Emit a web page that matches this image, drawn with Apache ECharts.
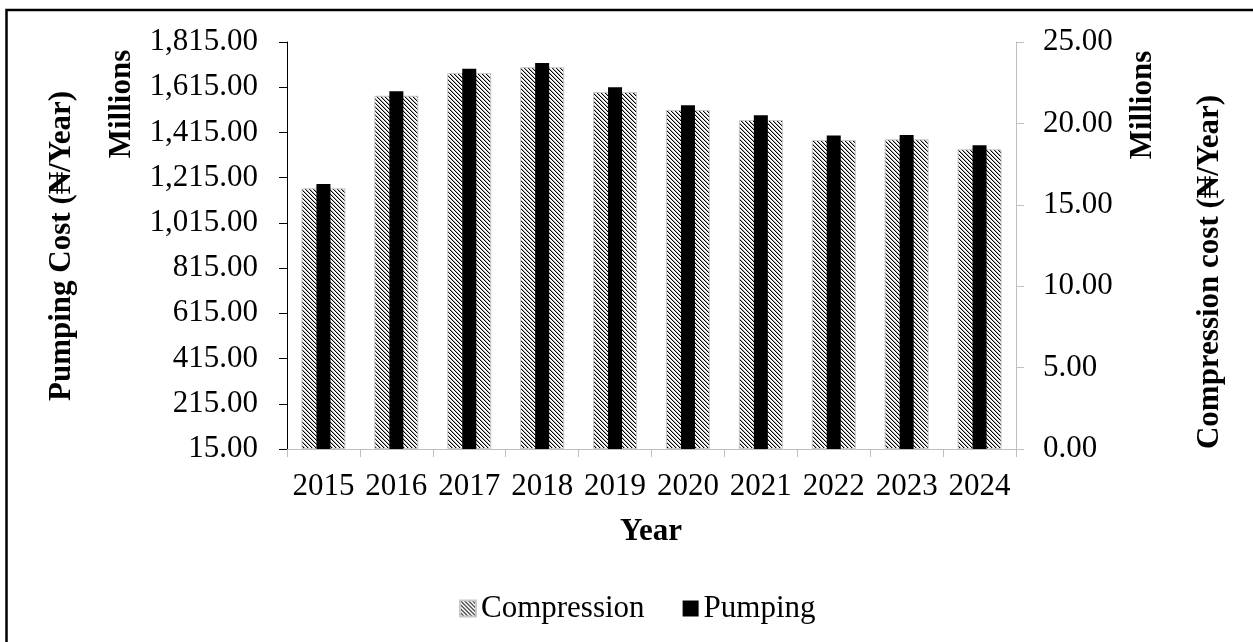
<!DOCTYPE html>
<html>
<head>
<meta charset="utf-8">
<script src="https://cdn.jsdelivr.net/npm/echarts@6/dist/echarts.min.js"></script>
<style>
  html, body { margin: 0; padding: 0; background: #fff; }
  #chart { width: 1253px; height: 642px; }
</style>
</head>
<body>
<div id="chart"></div>
<script>
// data
const years = ['2015', '2016', '2017', '2018', '2019', '2020', '2021', '2022', '2023', '2024'];
// Pumping cost, millions (left axis)
const pumping = [1187, 1597, 1697, 1722, 1615, 1535, 1491, 1401, 1404, 1358];
// Compression cost, millions (right axis)
const compression = [16.01, 21.70, 23.10, 23.45, 21.93, 20.82, 20.21, 18.98, 19.02, 18.41];

const FONT = '"Liberation Serif", "Times New Roman", serif';

// diagonal hatch for compression bars
function makeHatch() {
  const c = document.createElement('canvas');
  c.width = 4; c.height = 4;
  const ctx = c.getContext('2d');
  const img = ctx.createImageData(4, 4);
  for (let y = 0; y < 4; y++) {
    for (let x = 0; x < 4; x++) {
      const d = ((x - y) % 4 + 4) % 4;
      let v = 255;
      if (d === 0) v = 0;
      else if (d === 1) v = 170;
      const i = (y * 4 + x) * 4;
      img.data[i] = v; img.data[i + 1] = v; img.data[i + 2] = v; img.data[i + 3] = 255;
    }
  }
  ctx.putImageData(img, 0, 0);
  return c;
}

const fmt = (v) => v.toLocaleString('en-US', { minimumFractionDigits: 2, maximumFractionDigits: 2 });

const chart = echarts.init(document.getElementById('chart'));

chart.setOption({
  animation: false,
  backgroundColor: '#fff',
  grid: { left: 287, right: 237, top: 42, bottom: 193 },
  legend: {
    left: 454,
    top: 588,
    itemWidth: 16,
    itemHeight: 16,
    itemGap: 38,
    icon: 'rect',
    textStyle: { fontFamily: FONT, fontSize: 31, color: '#000' },
    data: ['Compression', 'Pumping']
  },
  xAxis: [
    {
      type: 'category',
      data: years,
      axisLine: { lineStyle: { color: '#bfbfbf', width: 1 } },
      axisTick: { show: true, length: 8, lineStyle: { color: '#bfbfbf' } },
      axisLabel: { fontFamily: FONT, fontSize: 31, color: '#000', margin: 22, interval: 0 },
      splitLine: { show: false }
    },
    {
      type: 'category',
      data: years,
      show: false
    }
  ],
  yAxis: [
    {
      type: 'value',
      position: 'left',
      min: 15,
      max: 1815,
      interval: 200,
      axisLine: { show: true, lineStyle: { color: '#000', width: 1 } },
      axisTick: { show: true, length: 8, lineStyle: { color: '#000' } },
      axisLabel: { fontFamily: FONT, fontSize: 31, color: '#000', margin: 29, formatter: fmt },
      splitLine: { show: false }
    },
    {
      type: 'value',
      position: 'right',
      min: 0,
      max: 25,
      interval: 5,
      axisLine: { show: true, lineStyle: { color: '#bfbfbf', width: 1 } },
      axisTick: { show: true, length: 8, lineStyle: { color: '#bfbfbf' } },
      axisLabel: { fontFamily: FONT, fontSize: 31, color: '#000', margin: 27, formatter: fmt },
      splitLine: { show: false }
    }
  ],
  series: [
    {
      name: 'Compression',
      type: 'bar',
      xAxisIndex: 0,
      yAxisIndex: 1,
      barWidth: 44,
      data: compression,
      itemStyle: {
        color: { image: makeHatch(), repeat: 'repeat' },
        borderColor: '#c8c8c8',
        borderWidth: 1
      }
    },
    {
      name: 'Pumping',
      type: 'bar',
      xAxisIndex: 1,
      yAxisIndex: 0,
      barWidth: 14,
      data: pumping,
      itemStyle: { color: '#000' }
    }
  ],
  graphic: [
    {
      type: 'rect',
      shape: { x: 6.5, y: 10, width: 1400, height: 800 },
      style: { fill: 'none', stroke: '#000', lineWidth: 2.5 },
      silent: true
    },
    {
      type: 'text',
      x: 62, y: 246, rotation: Math.PI / 2,
      style: { text: 'Pumping Cost (₦/Year)', font: 'bold 31px ' + FONT, fill: '#000', align: 'center', verticalAlign: 'middle' }
    },
    {
      type: 'text',
      x: 122, y: 104, rotation: Math.PI / 2,
      style: { text: 'Millions', font: 'bold 31px ' + FONT, fill: '#000', align: 'center', verticalAlign: 'middle' }
    },
    {
      type: 'text',
      x: 1143, y: 105, rotation: Math.PI / 2,
      style: { text: 'Millions', font: 'bold 31px ' + FONT, fill: '#000', align: 'center', verticalAlign: 'middle' }
    },
    {
      type: 'text',
      x: 1210, y: 272, rotation: Math.PI / 2,
      style: { text: 'Compression cost (₦/Year)', font: 'bold 31px ' + FONT, fill: '#000', align: 'center', verticalAlign: 'middle' }
    },
    {
      type: 'text',
      x: 651, y: 532,
      style: { text: 'Year', font: 'bold 31px ' + FONT, fill: '#000', align: 'center', verticalAlign: 'middle' }
    }
  ]
});
</script>
</body>
</html>
